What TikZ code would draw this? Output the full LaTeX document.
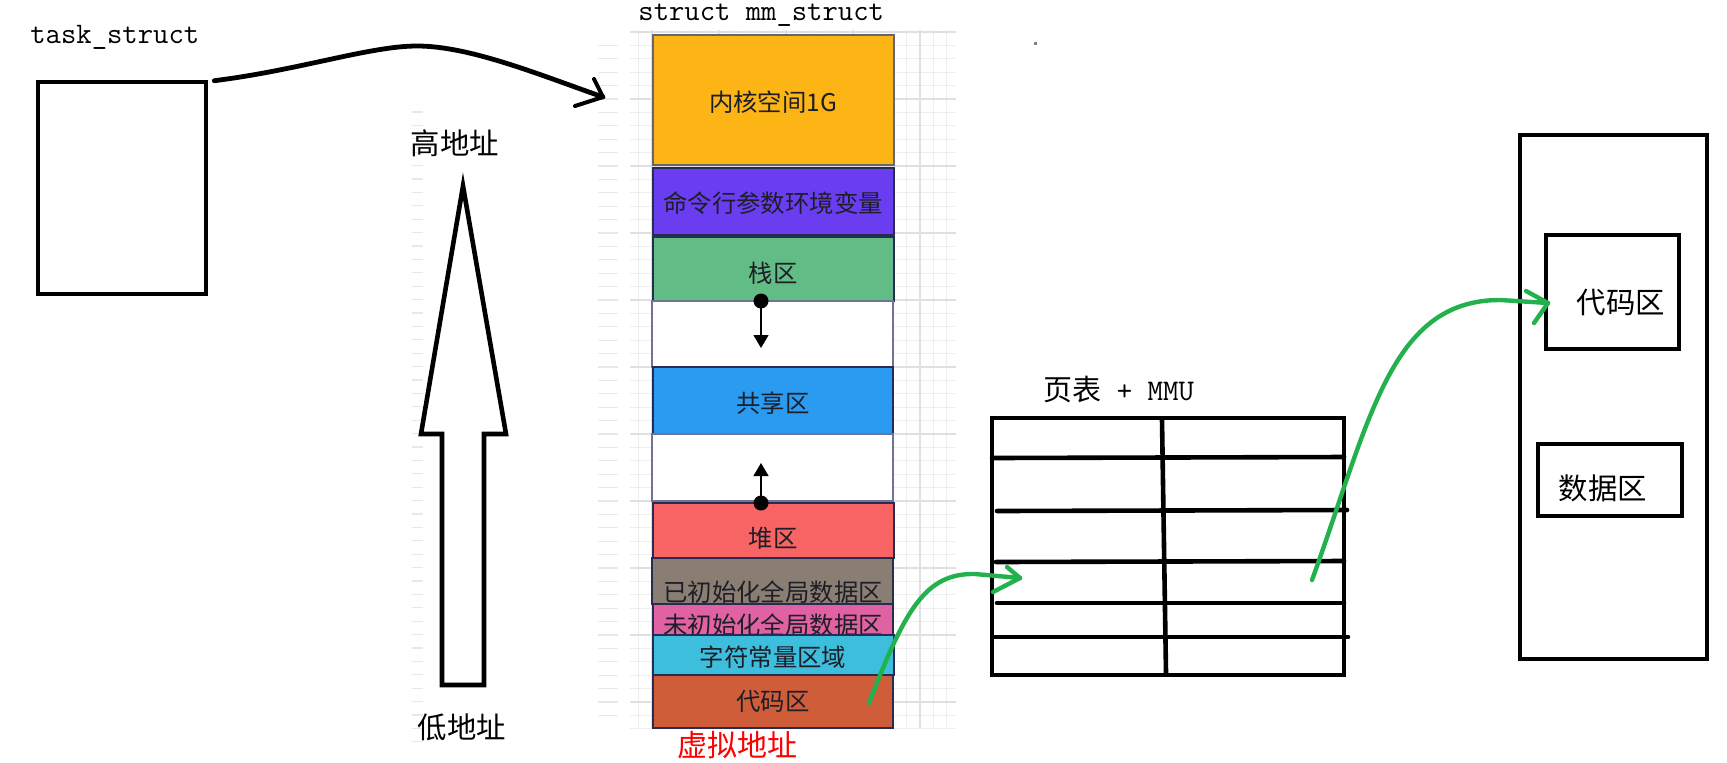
\documentclass[tikz,border=0pt]{standalone}
\usepackage{fontspec}
\newfontfamily\cjk{Noto Sans CJK SC}
\usetikzlibrary{fit,arrows.meta}
\definecolor{pgreen}{RGB}{34,177,76}
\definecolor{cKern}{RGB}{253,181,21}
\definecolor{cCmd}{RGB}{106,61,240}
\definecolor{cStack}{RGB}{98,188,133}
\definecolor{cShare}{RGB}{42,155,240}
\definecolor{cHeap}{RGB}{248,99,99}
\definecolor{cInit}{RGB}{138,126,115}
\definecolor{cUninit}{RGB}{224,98,162}
\definecolor{cConst}{RGB}{60,190,220}
\definecolor{cCode}{RGB}{208,93,58}
\definecolor{navy}{RGB}{40,44,80}
\definecolor{wborder}{RGB}{112,114,150}
\definecolor{txtdark}{RGB}{30,30,40}
\definecolor{gridminor}{RGB}{238,238,238}
\definecolor{gridmajor}{RGB}{224,224,224}
\definecolor{tickc}{RGB}{232,232,232}
\begin{document}
\begin{tikzpicture}[x=0.5pt,y=-0.5pt,
  boxthick/.style={draw=black,line width=2.3pt,inner sep=0pt},
  memblk/.style={draw=navy,line width=0.6pt,inner sep=0pt},
  whiteblk/.style={draw=wborder,line width=0.8pt,inner sep=0pt,fill=white},
  memtxt/.style={font=\cjk\fontsize{12.2}{14}\selectfont,text=txtdark,inner sep=0pt},
  cjklbl/.style={font=\cjk\fontsize{14.7}{16}\selectfont,inner sep=0pt},
  monolbl/.style={font=\ttfamily\fontsize{14.9}{16}\selectfont,inner sep=0pt,anchor=base west},
  gline/.style={draw=pgreen,line width=2.2pt,line cap=round,line join=round},
  tline/.style={line width=2.3pt,line cap=round},
  dotnode/.style={circle,fill=black,inner sep=0pt,minimum size=7.5pt},
  smallarrow/.style={line width=0.6pt,-{Triangle[length=6.5pt,width=7.5pt]}}
]
\useasboundingbox (0,0) rectangle (1727,762);
\fill[white] (0,0) rectangle (1727,762);

% faint grid behind memory column
\begin{scope}
  \clip (630,30) rectangle (956,728);
  \foreach \i in {-2,...,23} {
    \draw[gridminor,line width=0.5pt] (652+13.4*\i,30) -- (652+13.4*\i,728);
  }
  \foreach \j in {0,...,52} {
    \draw[gridminor,line width=0.5pt] (630,32+13.4*\j) -- (956,32+13.4*\j);
  }
  \foreach \i in {0,...,4} {
    \draw[gridmajor,line width=0.9pt] (652+67*\i,30) -- (652+67*\i,728);
  }
  \foreach \j in {0,...,10} {
    \draw[gridmajor,line width=0.9pt] (630,32+67*\j) -- (956,32+67*\j);
  }
\end{scope}
% faint tick columns
\foreach \j in {1,...,51} {
  \draw[tickc,line width=0.6pt] (598,32+13.4*\j) -- (618,32+13.4*\j);
}
\foreach \j in {0,...,47} {
  \draw[tickc,line width=0.6pt] (412,112+13.4*\j) -- (423,112+13.4*\j);
}
\fill[gray] (1034,42) rectangle (1037,45);

% task_struct
\node[monolbl] (tslbl) at (30,43) {task\_struct};
\node[boxthick,fit={(38,82)(206,294)}] (ts) {};

% mm_struct label
\node[monolbl] (mmlbl) at (638,20) {struct mm\_struct};

% memory column
\node[memblk,fill=cKern,draw=gray!70!navy,fit={(653,35)(894,165)}] (kern) {};
\node[memtxt] (kernt) at (773,102) {内核空间1G};
\node[memblk,fill=cCmd,fit={(653,168)(894,235)}] (cmd) {};
\node[memtxt] (cmdt) at (773,203) {命令行参数环境变量};
\node[memblk,fill=cStack,fit={(653,237)(894,301)}] (stack) {};
\node[memtxt] (stackt) at (773,273) {栈区};
\node[whiteblk,fit={(652,301)(893,367)}] (w1) {};
\node[memblk,fill=cShare,fit={(653,367)(893,434)}] (share) {};
\node[memtxt] (sharet) at (773,403) {共享区};
\node[whiteblk,fit={(652,434)(893,501)}] (w2) {};
\node[memblk,fill=cHeap,fit={(653,503)(894,558)}] (heap) {};
\node[memtxt] (heapt) at (773,538) {堆区};
\node[memblk,fill=cInit,fit={(652,558)(893,604)}] (init) {};
\node[memtxt] (initt) at (773,592) {已初始化全局数据区};
\node[memblk,fill=cUninit,fit={(653,604)(893,635)}] (uninit) {};
\node[memtxt] (uninitt) at (773,625) {未初始化全局数据区};
\node[memblk,fill=cConst,fit={(653,635)(894,675)}] (const) {};
\node[memtxt] (constt) at (773,657) {字符常量区域};
\node[memblk,fill=cCode,fit={(653,675)(893,728)}] (code) {};
\node[memtxt] (codet) at (773,701) {代码区};

% growth arrows
\node[dotnode] (d1) at (761,301) {};
\coordinate (d1e) at (761,348);
\draw[smallarrow] (d1.center) -- (d1e);
\node[dotnode] (d2) at (761,503) {};
\coordinate (d2e) at (761,463);
\draw[smallarrow] (d2.center) -- (d2e);

\node[cjklbl,text=red,font=\cjk\fontsize{15}{16}\selectfont] (virt) at (737,745) {虚拟地址};

% black curved arrow
\coordinate (mmarrow) at (603,97);
\draw[line width=2.4pt,line cap=round] ([xshift=3pt,yshift=-0.5pt]ts.north east)
  .. controls (300,70) and (370,46) .. (417,46)
  .. controls (470,46) and (540,75) .. (mmarrow);
\draw[line width=2pt,line cap=round,line join=round] (594,79) -- (mmarrow) -- (575,106);

% address labels and big hollow arrow
\node[cjklbl] (high) at (455,143) {高地址};
\node[cjklbl] (low) at (462,727) {低地址};
\draw[line width=2.3pt,line join=miter,fill=white]
  (463,186) -- (506,434) -- (484,434) -- (484,685) -- (442,685) -- (442,434) -- (421,434) -- cycle;

% page table
\node[anchor=base west,inner sep=0pt] (ptlbl) at (1043,400)
  {{\cjk\fontsize{14.5}{16}\selectfont 页表}{\ttfamily\fontsize{15}{16}\selectfont\ + MMU}};
\node[boxthick,fit={(992,418)(1344,675)}] (pt) {};
\draw[tline] (1162,420) -- (1166,673);
\draw[tline] (992,458) -- (1344,457);
\draw[tline] (997,511) -- (1347,510);
\draw[tline] (996,562) -- (1344,561);
\draw[tline] (997,603) -- (1344,603);
\draw[tline] (994,637) -- (1348,637);

% physical memory
\node[boxthick,fit={(1520,135)(1707,659)}] (phys) {};
\node[boxthick,fit={(1546,235)(1679,349)}] (pcode) {};
\node[cjklbl] (pcodet) at (1621,302) {代码区};
\node[boxthick,fit={(1538,444)(1682,516)}] (pdata) {};
\node[cjklbl] (pdatat) at (1603,488) {数据区};

% green arrows
\coordinate (g1s) at (869,703);
\coordinate (g1e) at (1020,578);
\draw[gline] (g1s) .. controls (905,610) and (925,573) .. (975,574) -- (g1e);
\draw[gline] (1007,567) -- (g1e) -- (993,592);
\coordinate (g2s) at (1312,580);
\coordinate (g2e) at (1548,303);
\draw[gline] (g2s) .. controls (1370,420) and (1390,300) .. (1500,300) -- (g2e);
\draw[gline] (1526,291) -- (g2e) -- (1534,323);
\end{tikzpicture}
\end{document}
